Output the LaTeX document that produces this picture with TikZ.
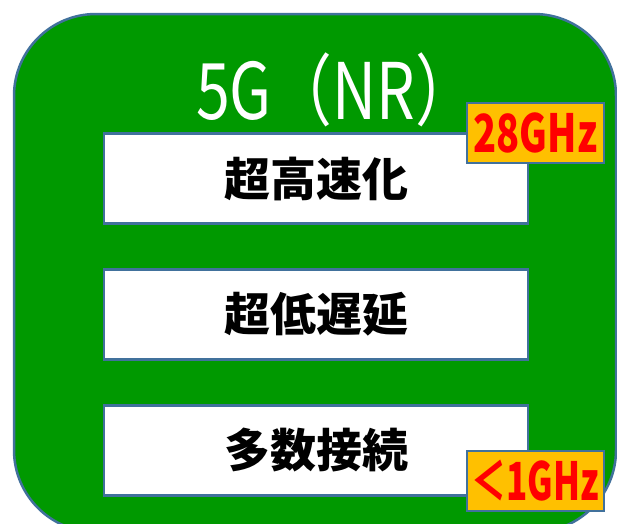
\documentclass[tikz,border=0pt]{standalone}
\usepackage{fontspec}
\newfontfamily\jp{Noto Sans CJK JP}
\definecolor{bggreen}{RGB}{0,153,0}
\definecolor{edgeblue}{RGB}{65,113,156}
\definecolor{tagorange}{RGB}{255,192,0}
\begin{document}
\begin{tikzpicture}[x=1pt,y=-1pt,
  featbox/.style={draw=edgeblue,line width=2.2pt,fill=white,minimum width=424pt,minimum height=90pt,inner sep=0pt,
    font=\jp\bfseries\fontsize{46}{46}\selectfont,text=black},
  tagbox/.style={draw=edgeblue,line width=2pt,fill=tagorange,minimum width=137pt,minimum height=60pt,inner sep=0pt,
    text=red,font=\jp\bfseries\fontsize{50}{50}\selectfont}]
\useasboundingbox (0,0) rectangle (617,523);
\fill[white] (0,0) rectangle (617,523);
\clip (0,0) rectangle (617,523);
\draw[draw=edgeblue,line width=2.5pt,fill=bggreen,rounded corners=82pt] (14,14) rectangle (616,532);
\node[text=white,font=\jp\fontsize{78}{78}\selectfont] (title) at (336,90) {\scalebox{0.78}[1]{5G（NR）}};
\node[featbox] (b1) at (316,178.5) {超高速化};
\node[featbox] (b2) at (316,314.5) {超低遅延};
\node[featbox] (b3) at (316,450.5) {多数接続};
\node[tagbox] (t1) at (535.5,133) {\scalebox{0.76}[1.05]{28GHz}};
\node[tagbox] (t2) at (535.5,481) {\scalebox{0.70}[1.05]{＜1GHz}};
\end{tikzpicture}
\end{document}
